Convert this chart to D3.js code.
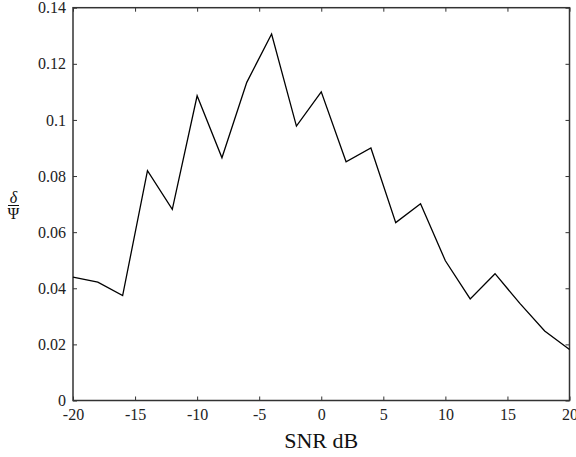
<!DOCTYPE html>
<html>
<head>
<meta charset="utf-8">
<script src="https://cdn.jsdelivr.net/npm/d3@7"></script>
<style>
  html, body { margin: 0; padding: 0; background: #fff; }
  svg { display: block; font-family: "Liberation Serif", "Times New Roman", serif; }
</style>
</head>
<body>
<div id="chart"></div>
<script>
// SNR values (dB) and the measured ratio delta / Psi
const snr   = [-20, -18, -16, -14, -12, -10, -8, -6, -4, -2, 0, 2, 4, 6, 8, 10, 12, 14, 16, 18, 20];
const ratio = [0.0440, 0.0422, 0.0374, 0.0819, 0.0681, 0.1086, 0.0865, 0.1134, 0.1306, 0.0978,
               0.1100, 0.0851, 0.0900, 0.0634, 0.0701, 0.0498, 0.0362, 0.0452, 0.0346, 0.0248, 0.0182];
const xTicks = [-20, -15, -10, -5, 0, 5, 10, 15, 20];
const yTicks = [0, 0.02, 0.04, 0.06, 0.08, 0.1, 0.12, 0.14];

const width  = 576,
      height = 457,
      margin = { top: 7.7, right: 6.5, bottom: 56.5, left: 73 };

const x = d3.scaleLinear([-20, 20], [margin.left, width - margin.right]);
const y = d3.scaleLinear([0, 0.14], [height - margin.bottom, margin.top]);

const svg = d3.select("#chart").append("svg")
  .attr("width", width)
  .attr("height", height);

const tickLen = 4;

/* axes with inward ticks, MATLAB style box */
const styleAxis = g => {
  g.attr("font-family", null).attr("font-size", null);
  g.select(".domain").remove();
  g.selectAll("line").attr("stroke", "#333").attr("stroke-width", 1);
  g.selectAll("text").attr("fill", "#222").attr("font-size", 16);
};

svg.append("g")
  .attr("transform", `translate(0,${y(0)})`)
  .call(d3.axisBottom(x).tickValues(xTicks).tickFormat(d => String(d))
    .tickSizeInner(-tickLen).tickSizeOuter(0).tickPadding(8))
  .call(styleAxis);

svg.append("g")
  .attr("transform", `translate(0,${y(0.14)})`)
  .call(d3.axisTop(x).tickValues(xTicks).tickFormat("")
    .tickSizeInner(-tickLen).tickSizeOuter(0))
  .call(styleAxis);

svg.append("g")
  .attr("transform", `translate(${x(-20)},0)`)
  .call(d3.axisLeft(y).tickValues(yTicks).tickFormat(d => String(+d.toFixed(2)))
    .tickSizeInner(-tickLen).tickSizeOuter(0).tickPadding(7))
  .call(styleAxis);

svg.append("g")
  .attr("transform", `translate(${x(20)},0)`)
  .call(d3.axisRight(y).tickValues(yTicks).tickFormat("")
    .tickSizeInner(-tickLen).tickSizeOuter(0))
  .call(styleAxis);

svg.append("rect")
  .attr("x", x(-20))
  .attr("y", y(0.14))
  .attr("width", x(20) - x(-20))
  .attr("height", y(0) - y(0.14))
  .attr("fill", "none")
  .attr("stroke", "#333")
  .attr("stroke-width", 1.5);

/* the data line */
const line = d3.line()
  .x((d, i) => x(snr[i]))
  .y(d => y(d));

svg.append("path")
  .datum(ratio)
  .attr("d", line)
  .attr("fill", "none")
  .attr("stroke", "#000")
  .attr("stroke-width", 1.3)
  .attr("stroke-linejoin", "miter");

/* x label */
svg.append("text")
  .attr("x", (x(-20) + x(20)) / 2)
  .attr("y", 448)
  .attr("text-anchor", "middle")
  .attr("font-size", 22)
  .attr("fill", "#111")
  .text("SNR dB");

/* y label: delta over Psi fraction */
const frac = svg.append("g").attr("transform", "translate(13.5,205.5)");
frac.append("text")
  .attr("y", -2.5)
  .attr("text-anchor", "middle")
  .attr("font-size", 16)
  .attr("font-style", "italic")
  .attr("fill", "#111")
  .text("δ");
frac.append("line")
  .attr("x1", -5.5).attr("x2", 5.5)
  .attr("stroke", "#111")
  .attr("stroke-width", 1);
frac.append("text")
  .attr("y", 13)
  .attr("text-anchor", "middle")
  .attr("font-size", 16)
  .attr("fill", "#111")
  .text("Ψ");
</script>
</body>
</html>
